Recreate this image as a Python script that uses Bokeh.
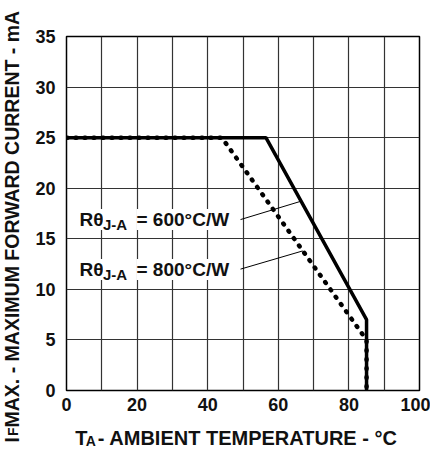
import math
from bokeh.plotting import figure
from bokeh.models import Label, FixedTicker, Range1d
from bokeh.layouts import row, column
from bokeh.embed import file_html
from bokeh.resources import INLINE

# ---- data ----
temp_600 = [0, 56.5, 85, 85]
if_600 = [25, 25, 7, 0]
temp_800 = [0, 44, 85, 85]
if_800 = [25, 25, 5, 0]

x_ticks = [0, 20, 40, 60, 80, 100]
x_grid = [0, 10, 20, 30, 40, 50, 60, 70, 80, 90, 100]
y_ticks = [0, 5, 10, 15, 20, 25, 30, 35]

label_600 = ["R\u03b8", "J-A", "= 600\u00b0C/W"]
label_800 = ["R\u03b8", "J-A", "= 800\u00b0C/W"]
# leader lines (from label end to curve)
lead_600_x = [49.3, 66.3]
lead_600_y = [16.9, 18.7]
lead_800_x = [49.3, 66.9]
lead_800_y = [12.0, 13.8]

x_title = ["T", "A", " - AMBIENT TEMPERATURE - \u00b0C"]
y_title = ["I", "F", " MAX. - MAXIMUM FORWARD CURRENT - mA"]

FONT = "Liberation Sans"
COLOR = "#111111"

# ---- layout sizes (canvas pixels) ----
W, H = 430, 448
YT_W = 24            # strip for the y-axis title
XT_H = 30            # strip for the x-axis title
P_W, P_H = W - YT_W, H - XT_H
FRAME_L, FRAME_R, FRAME_T, FRAME_B = 66, 419, 36, 390   # in canvas coords
SHIFT = 6            # label baseline correction (px)
SHIFT_IN = 4


def dx(ix):
    # reference-picture x (frame 74..427) -> data x
    return (ix - 74) / 353.0 * 100.0


def dy(iy):
    # reference-picture y (frame 44..398) -> data y
    return (398 - iy) / 354.0 * 35.0


p = figure(width=P_W, height=P_H, output_backend="svg", toolbar_location=None,
           x_range=Range1d(0, 100), y_range=Range1d(0, 35),
           min_border_left=FRAME_L - YT_W, min_border_right=YT_W + P_W - FRAME_R,
           min_border_top=FRAME_T, min_border_bottom=P_H - FRAME_B)

p.outline_line_color = "black"
p.outline_line_width = 1.5
p.background_fill_color = "white"
p.border_fill_color = "white"

for ax in (p.xaxis[0], p.yaxis[0]):
    ax.axis_line_color = None
    ax.major_tick_line_color = None
    ax.minor_tick_line_color = None
    ax.major_label_text_font = FONT
    ax.major_label_text_font_style = "bold"
    ax.major_label_text_font_size = "18px"
    ax.major_label_text_color = COLOR
    ax.axis_label = None

p.xaxis[0].ticker = FixedTicker(ticks=x_ticks)
p.yaxis[0].ticker = FixedTicker(ticks=y_ticks)
p.xaxis[0].major_label_standoff = 1
p.yaxis[0].major_label_standoff = 5

p.xgrid[0].ticker = FixedTicker(ticks=x_grid)
p.ygrid[0].ticker = FixedTicker(ticks=y_ticks)
for g in (p.xgrid[0], p.ygrid[0]):
    g.grid_line_color = "#333333"
    g.grid_line_width = 1.2


def add_label(fig, text, x, y, size, angle=0.0, bg=False):
    lab = Label(x=x, y=y, text=text, text_font=FONT, text_font_style="bold",
                text_font_size=size, text_color=COLOR,
                text_align="left", text_baseline="alphabetic", angle=angle)
    if bg:
        lab.background_fill_color = "white"
        lab.background_fill_alpha = 1.0
    fig.add_layout(lab)


# in-plot labels with white background
for lbl, base in ((label_600, 231), (label_800, 281)):
    add_label(p, lbl[0], dx(87), dy(base - SHIFT_IN), "19px", bg=True)
    add_label(p, lbl[2], dx(144), dy(base - SHIFT_IN), "19px", bg=True)
    add_label(p, lbl[1], dx(110.5), dy(base + 5 - SHIFT_IN), "15px", bg=True)

# curves
p.line(temp_800, if_800, line_color="black", line_width=4.5,
       line_dash="1 8", line_cap="round")
p.line(temp_600, if_600, line_color="black", line_width=3.5)

# leader lines
p.line(lead_600_x, lead_600_y, line_color="black", line_width=1)
p.line(lead_800_x, lead_800_y, line_color="black", line_width=1)


def strip(w, h):
    f = figure(width=w, height=h, output_backend="svg", toolbar_location=None,
               x_range=Range1d(0, w), y_range=Range1d(0, h),
               x_axis_location=None, y_axis_location=None,
               min_border=0, min_border_left=0, min_border_right=0,
               min_border_top=0, min_border_bottom=0)
    f.outline_line_color = None
    f.grid.visible = False
    f.background_fill_color = "white"
    f.border_fill_color = "white"
    return f


# y-axis title strip (data coords == canvas px, y upward)
yt = strip(YT_W, H)
add_label(yt, y_title[0], 17 - SHIFT, 6, "19.5px", angle=math.pi / 2)
add_label(yt, y_title[1], 18 - SHIFT, 12.5, "14px", angle=math.pi / 2)
add_label(yt, y_title[2], 17 - SHIFT, 21, "19.5px", angle=math.pi / 2)

# x-axis title strip (x measured from canvas x = YT_W)
xt = strip(P_W, XT_H)
add_label(xt, x_title[0], 10, 5 + SHIFT, "20px")
add_label(xt, x_title[1], 22, 2 + SHIFT, "14px")
add_label(xt, x_title[2], 36, 5 + SHIFT, "20px")

layout = row(yt, column(p, xt))
open("out.html", "w").write(file_html(layout, INLINE))
